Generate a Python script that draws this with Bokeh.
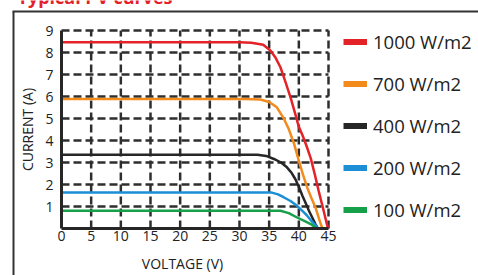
from bokeh.plotting import figure
from bokeh.models import Range1d, FixedTicker, Label, Legend, LegendItem
from bokeh.embed import file_html
from bokeh.resources import INLINE

# ---- data ----
voltage_ticks = [0, 5, 10, 15, 20, 25, 30, 35, 40, 45]
current_ticks = [1, 2, 3, 4, 5, 6, 7, 8, 9]

labels = ["1000 W/m2", "700 W/m2", "400 W/m2", "200 W/m2", "100 W/m2"]
colors = ["#e42328", "#f28a1c", "#262626", "#1b8ed6", "#17a04a"]

v_1000 = [0, 30, 32, 34, 35.2, 36.0, 36.9, 37.7, 38.6, 39.3, 40.0, 40.6, 41.3, 42.0, 42.7, 43.4, 44.1, 44.8, 45.0]
i_1000 = [8.47, 8.47, 8.44, 8.35, 8.09, 7.8, 7.33, 6.7, 5.96, 5.3, 4.62, 4.25, 3.75, 3.2, 2.45, 1.64, 0.9, 0.12, 0.0]

v_700 = [0, 31, 33.5, 35.0, 36.3, 37.5, 38.3, 39.2, 40.0, 40.7, 41.4, 42.1, 42.8, 43.4, 43.8, 44.0]
i_700 = [5.89, 5.89, 5.86, 5.75, 5.51, 4.98, 4.52, 3.85, 3.08, 2.45, 1.87, 1.4, 0.96, 0.45, 0.12, 0.0]

v_400 = [0, 33, 34.5, 35.8, 37.0, 38.0, 38.8, 39.4, 40.0, 40.6, 41.2, 41.7, 42.3, 42.8, 43.2]
i_400 = [3.35, 3.35, 3.3, 3.16, 3.0, 2.78, 2.52, 2.25, 1.9, 1.49, 1.12, 0.81, 0.48, 0.2, 0.0]

v_200 = [0, 35.3, 36.5, 37.5, 38.6, 39.7, 40.6, 41.4, 42.1, 42.8, 43.3]
i_200 = [1.64, 1.64, 1.55, 1.41, 1.25, 1.03, 0.8, 0.58, 0.35, 0.15, 0.0]

v_100 = [0, 36.9, 38.3, 39.7, 41.0, 42.0, 43.0]
i_100 = [0.81, 0.81, 0.7, 0.5, 0.33, 0.2, 0.0]

series_v = [v_1000, v_700, v_400, v_200, v_100]
series_i = [i_1000, i_700, i_400, i_200, i_100]

# ---- layout geometry (page px) ----
W, H = 478, 275
AX_L, AX_R, AX_T, AX_B = 61, 328, 30, 228   # where 0..45 and 0..9 land
X_MAX, Y_MAX = 45, 9
PX_X = (AX_R - AX_L) / X_MAX
PX_Y = (AX_B - AX_T) / Y_MAX


def dx(px):
    return (px - AX_L) / PX_X


def dy(py):
    return (AX_B - py) / PX_Y


FONT = "Open Sans"
TXT = "#222222"
GRID = "#2e2e2e"

p = figure(width=W, height=H, output_backend="svg", toolbar_location=None,
           x_range=Range1d(dx(0), dx(W)), y_range=Range1d(dy(H), dy(0)),
           min_border=0)
p.outline_line_color = None
p.background_fill_color = "white"
p.border_fill_color = "white"
p.xgrid.visible = False
p.ygrid.visible = False

# axes drawn at the data origin
p.xaxis.fixed_location = 0
p.yaxis.fixed_location = 0
p.xaxis.bounds = (0, X_MAX)
p.yaxis.bounds = (0, Y_MAX)
p.xaxis.ticker = FixedTicker(ticks=voltage_ticks)
p.yaxis.ticker = FixedTicker(ticks=current_ticks)
for ax in (p.xaxis[0], p.yaxis[0]):
    ax.axis_line_width = 3
    ax.axis_line_color = "#262626"
    ax.major_tick_line_color = None
    ax.minor_tick_line_color = None
    ax.major_tick_out = 0
    ax.major_tick_in = 0
    ax.minor_tick_out = 0
    ax.minor_tick_in = 0
    ax.major_label_text_font = FONT
    ax.major_label_text_font_size = "14px"
    ax.major_label_text_color = TXT
p.xaxis.major_label_standoff = 2
p.yaxis.major_label_standoff = 8
p.yaxis.axis_label = "CURRENT (A)"
p.yaxis.axis_label_text_font = FONT
p.yaxis.axis_label_text_font_size = "14px"
p.yaxis.axis_label_text_font_style = "normal"
p.yaxis.axis_label_text_color = TXT
p.yaxis.axis_label_standoff = 5

# dashed grid from the tick lists
gx = [t for t in voltage_ticks if t > 0]
gy = [t for t in current_ticks if t > 0]
p.segment(x0=gx, y0=[0] * len(gx), x1=gx, y1=[Y_MAX] * len(gx),
          line_color=GRID, line_width=2.5, line_dash="8 4")
p.segment(x0=[0] * len(gy), y0=gy, x1=[X_MAX] * len(gy), y1=gy,
          line_color=GRID, line_width=2.5, line_dash="8 4")

for v, i, c in zip(series_v, series_i, colors):
    p.line(v, i, line_color=c, line_width=2.5)

items = []
nan = float("nan")
for lab, c in zip(labels, colors):
    proxy = p.line(x=[nan, nan], y=[nan, nan], line_color=c, line_width=6)
    items.append(LegendItem(label=lab, renderers=[proxy]))

legend = Legend(items=items, location=(343, H - 222), glyph_width=24, glyph_height=25,
                label_height=25, spacing=17, label_standoff=6, padding=0, margin=0,
                border_line_color=None, background_fill_alpha=0,
                label_text_font=FONT, label_text_font_size="18.5px", label_text_color=TXT)
p.add_layout(legend)

p.add_layout(Label(x=dx(182), y=dy(263), text="VOLTAGE (V)", text_align="center",
                   text_baseline="middle", text_font=FONT, text_font_size="14px",
                   text_color=TXT))

p.add_layout(Label(x=dx(17), y=dy(-3.5), text="Typical I-V curves", text_align="left",
                   text_baseline="alphabetic", text_font=FONT, text_font_size="18px",
                   text_font_style="bold", text_color="#e4202a"))

# outer frame (left and top edges)
p.segment(x0=[dx(13), dx(12)], y0=[dy(11), dy(11)], x1=[dx(13), dx(W + 5)],
          y1=[dy(H + 5), dy(11)], line_color="#333333", line_width=2)

open("out.html", "w").write(file_html(p, INLINE))
